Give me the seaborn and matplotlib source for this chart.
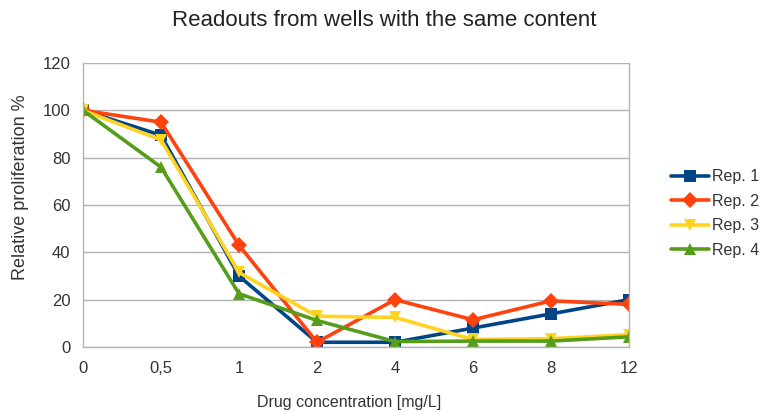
import matplotlib
matplotlib.use("Agg")
import matplotlib.pyplot as plt
import seaborn as sns
import pandas as pd

categories = ["0", "0,5", "1", "2", "4", "6", "8", "12"]
rep1 = [100, 89.5, 30, 2, 2, 8, 14, 20]
rep2 = [100, 95, 43, 2, 20, 11.5, 19.5, 18]
rep3 = [100, 87.5, 31.5, 13, 12.5, 3.2, 3.5, 5.2]
rep4 = [100, 76, 22.5, 11.2, 2.3, 2.5, 2.5, 4.3]
series_names = ["Rep. 1", "Rep. 2", "Rep. 3", "Rep. 4"]
colors = ["#004586", "#ff420e", "#ffd320", "#579d1c"]
markers = ["s", "D", "v", "^"]

rows = []
for name, vals in zip(series_names, [rep1, rep2, rep3, rep4]):
    for i, v in enumerate(vals):
        rows.append({"pos": i, "value": v, "series": name})
df = pd.DataFrame(rows)

sns.set_style("white")
plt.rcParams["font.family"] = ["Liberation Sans", "DejaVu Sans"]

fig = plt.figure(figsize=(7.67, 4.12), dpi=100)
ax = fig.add_axes([83/767, 1-347/412, (629-83)/767, (347-63)/412])

sns.lineplot(data=df, x="pos", y="value", hue="series", style="series",
             palette=dict(zip(series_names, colors)),
             markers=dict(zip(series_names, markers)),
             dashes=False, linewidth=2.6, markersize=8.5,
             markeredgewidth=0, ax=ax, legend=True)

ax.set_xlim(0, len(categories) - 1)
ax.set_ylim(0, 120)
ax.set_yticks(range(0, 121, 20))
ax.set_xticks(range(len(categories)))
ax.set_xticklabels(categories)
ax.grid(axis="y", color="#b3b3b3", linewidth=1)
ax.set_axisbelow(True)
for side in ["left", "right", "bottom"]:
    ax.spines[side].set_color("#b3b3b3")
    ax.spines[side].set_linewidth(1)
ax.spines["top"].set_visible(False)
ax.tick_params(axis="both", colors="#b3b3b3", labelcolor="#333333",
               labelsize=12, length=5, direction="out")
ax.tick_params(axis="x", pad=5)
ax.tick_params(axis="y", pad=4)
ax.set_xlabel("Drug concentration [mg/L]", fontsize=11.5, color="#333333")
ax.set_ylabel("Relative proliferation %", fontsize=13, color="#333333")
ax.xaxis.set_label_coords((349-83)/546, -(395-347)/284)
ax.yaxis.set_label_coords(-(83-29)/546, (347-187)/284)
fig.suptitle("Readouts from wells with the same content", x=384/767, y=0.975,
             fontsize=16, color="#222222")

handles, labels = ax.get_legend_handles_labels()
leg = ax.legend(handles, labels, loc="center left", bbox_to_anchor=(0.05, 0.47),
                bbox_transform=ax.transAxes, frameon=False, fontsize=11.5,
                handlelength=2.4, labelspacing=0.6, handletextpad=0.2,
                labelcolor="#333333")
leg.set_bbox_to_anchor((1.05, 0.47), transform=ax.transAxes)

fig.savefig("out.png", dpi=100)
